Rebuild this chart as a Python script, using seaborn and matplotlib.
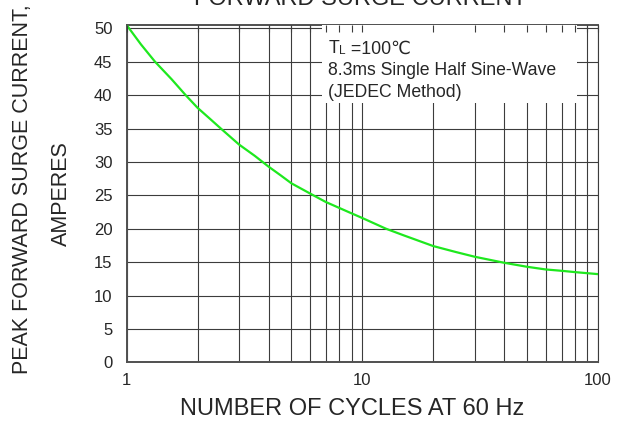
import matplotlib
matplotlib.use("Agg")
import matplotlib.pyplot as plt
import seaborn as sns
import pandas as pd
from matplotlib.patches import Rectangle
from matplotlib.ticker import FixedLocator, NullFormatter

# values
cycles = [1, 1.15, 1.32, 1.55, 1.78, 2, 2.25, 2.51, 3, 3.5, 4, 4.5, 5, 6.2, 7,
          8.87, 10, 12.6, 15, 20, 25, 30, 40, 50, 60, 70, 80, 100]
current = [50.5, 47.6, 45, 42.4, 40, 38.1, 36.5, 35, 32.6, 30.9, 29.3, 28, 26.8, 25, 24.0,
           22.4, 21.6, 20, 19, 17.4, 16.5, 15.8, 14.9, 14.3, 13.9, 13.7, 13.5, 13.2]
y_ticks = [0, 5, 10, 15, 20, 25, 30, 35, 40, 45, 50]
x_ticks = [1, 10, 100]
x_tick_labels = ["1", "10", "100"]
minor_x = [2, 3, 4, 5, 6, 7, 8, 9, 20, 30, 40, 50, 60, 70, 80, 90]
note_lines = ["8.3ms Single Half Sine-Wave", "(JEDEC Method)"]

df = pd.DataFrame({"cycles": cycles, "current": current})

sns.set_style("white")
plt.rcParams["font.family"] = ["Liberation Sans", "DejaVu Sans"]
txt = "#262626"
grid_c = "#3c3c3c"

fig = plt.figure(figsize=(6.21, 4.23), dpi=100)
ax = fig.add_axes([0.2039, 0.1435, 0.7591, 0.7974])

sns.lineplot(data=df, x="cycles", y="current", color="#1ee81e", linewidth=1.6, ax=ax, zorder=4)

ax.set_xscale("log")
ax.set_xlim(1, 100)
ax.set_ylim(0, 50.5)
ax.xaxis.set_major_locator(FixedLocator(x_ticks))
ax.set_xticklabels(x_tick_labels)
ax.xaxis.set_minor_locator(FixedLocator(minor_x))
ax.xaxis.set_minor_formatter(NullFormatter())
ax.set_yticks(y_ticks)
ax.grid(True, which="both", axis="x", color=grid_c, linewidth=0.8)
ax.grid(True, which="major", axis="y", color=grid_c, linewidth=0.8)
ax.tick_params(axis="both", which="both", length=0, labelsize=12, colors=txt)
ax.tick_params(axis="y", pad=10.2)
ax.tick_params(axis="x", pad=7.5)
ax.set_xlabel("")
ax.set_ylabel("")
for side in ["top", "bottom", "left"]:
    ax.spines[side].set_color("#505050")
    ax.spines[side].set_linewidth(1.4)
ax.spines["right"].set_color(grid_c)
ax.spines["right"].set_linewidth(0.8)

# white note box covering the grid
ax.add_patch(Rectangle((0.4145, 0.7688), 0.5409, 0.2312, transform=ax.transAxes,
                       facecolor="white", edgecolor="none", zorder=3))
t1 = ax.text(0.428, 0.916, "T", transform=ax.transAxes, fontsize=12.7,
             color=txt, va="baseline", zorder=5)
t2 = ax.annotate("L", xy=(1, 0), xycoords=t1, fontsize=8.5, color=txt,
                 va="bottom", ha="left", zorder=5)
ax.annotate(" =100\u2103", xy=(1, 0), xycoords=t2, xytext=(0, 0), textcoords="offset points",
            fontsize=12.7, color=txt, va="bottom", ha="left", zorder=5)
ax.text(0.428, 0.852, note_lines[0], transform=ax.transAxes, fontsize=12.7,
        color=txt, va="baseline", zorder=5)
ax.text(0.428, 0.788, note_lines[1], transform=ax.transAxes, fontsize=12.7,
        color=txt, va="baseline", zorder=5)

# short inward ticks along the top edge
ax2 = ax.twiny()
ax2.set_xscale("log")
ax2.set_xlim(1, 100)
ax2.xaxis.set_major_locator(FixedLocator(x_ticks))
ax2.xaxis.set_minor_locator(FixedLocator(minor_x))
ax2.xaxis.set_major_formatter(NullFormatter())
ax2.xaxis.set_minor_formatter(NullFormatter())
ax2.tick_params(axis="x", which="both", direction="in", length=5, width=0.8, color=grid_c)
for s in ax2.spines.values():
    s.set_visible(False)

fig.text(0.5797, 0.988, "FORWARD SURGE CURRENT", ha="center", va="baseline",
         fontsize=17, color=txt)
fig.text(0.5663, 0.0189, "NUMBER OF CYCLES AT 60 Hz", ha="center", va="baseline",
         fontsize=17, color=txt)
fig.text(0.037, 0.552, "PEAK FORWARD SURGE CURRENT,", rotation=90, ha="center",
         va="center", fontsize=15.5, color=txt)
fig.text(0.0994, 0.5414, "AMPERES", rotation=90, ha="center", va="center",
         fontsize=15.5, color=txt)

fig.savefig("out.png", dpi=100)
